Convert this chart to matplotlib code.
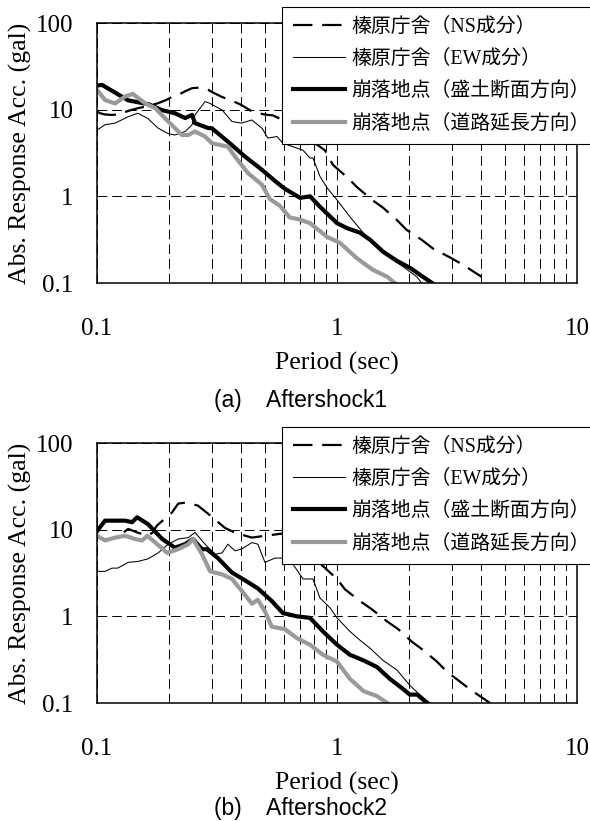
import matplotlib
matplotlib.use('Agg')
import matplotlib.pyplot as plt
from matplotlib.ticker import FixedLocator, FixedFormatter, NullLocator
from matplotlib.font_manager import FontProperties

plt.rcParams['font.family'] = ['Liberation Serif', 'Noto Sans CJK JP']
plt.rcParams['lines.scale_dashes'] = False

labels = ['榛原庁舎（NS成分）', '榛原庁舎（EW成分）',
          '崩落地点（盛土断面方向）', '崩落地点（道路延長方向）']
captions = ['(a)    Aftershock1', '(b)    Aftershock2']

# Aftershock1
a_ns_t = [0.100, 0.103, 0.108, 0.115, 0.122, 0.130, 0.137, 0.148, 0.163, 0.180, 0.195, 0.205, 0.218, 0.235,
          0.249, 0.270, 0.290, 0.301, 0.332, 0.370, 0.400, 0.446, 0.490, 0.515, 0.540, 0.600, 0.700, 0.810,
          0.890, 0.963, 1.110, 1.210, 1.400, 1.555, 1.780, 1.950, 2.250, 2.510, 2.960, 3.340, 4.000]
a_ns_v = [9.5, 9.1, 8.8, 8.7, 8.8, 9.3, 9.8, 10.4, 11.0, 11.9, 13.0, 14.0, 14.8, 16.5,
          17.7, 18.0, 17.0, 16.0, 14.0, 12.5, 11.3, 9.4, 8.9, 8.7, 8.6, 7.5, 5.6, 4.1,
          3.4, 2.3, 1.63, 1.28, 0.91, 0.74, 0.53, 0.41, 0.316, 0.25, 0.197, 0.163, 0.118]

a_ew_t = [0.100, 0.108, 0.119, 0.135, 0.148, 0.163, 0.180, 0.198, 0.211, 0.233, 0.249, 0.256, 0.282, 0.296,
          0.332, 0.365, 0.400, 0.442, 0.487, 0.515, 0.562, 0.595, 0.681, 0.722, 0.772, 0.794, 0.849, 0.910,
          1.000, 1.132, 1.330, 1.555, 1.880, 2.150, 2.250]
a_ew_v = [5.8, 6.7, 7.0, 8.3, 9.1, 7.9, 6.1, 5.3, 5.1, 5.6, 6.7, 8.7, 12.4, 11.8,
          9.9, 7.3, 7.0, 7.6, 6.1, 4.7, 4.9, 4.1, 3.6, 3.4, 2.77, 2.77, 1.7, 1.25,
          0.91, 0.58, 0.34, 0.22, 0.155, 0.118, 0.1]

a_bk_t = [0.100, 0.105, 0.135, 0.165, 0.186, 0.211, 0.233, 0.249, 0.256, 0.290, 0.301, 0.351, 0.414, 0.487,
          0.552, 0.607, 0.702, 0.772, 0.849, 1.000, 1.100, 1.247, 1.372, 1.555, 1.778, 2.010, 2.280, 2.490]
a_bk_v = [19.0, 19.3, 12.8, 11.5, 9.9, 9.1, 8.0, 8.7, 7.0, 6.15, 6.1, 4.28, 2.87, 2.02,
          1.5, 1.22, 0.96, 1.0, 0.76, 0.49, 0.43, 0.38, 0.316, 0.23, 0.18, 0.15, 0.118, 0.1]

a_gy_t = [0.100, 0.108, 0.119, 0.131, 0.141, 0.159, 0.175, 0.198, 0.226, 0.240, 0.256, 0.282, 0.301, 0.351,
          0.376, 0.426, 0.487, 0.525, 0.578, 0.636, 0.700, 0.772, 0.910, 1.029, 1.210, 1.410, 1.620, 1.740]
a_gy_v = [16.9, 12.9, 11.8, 14.2, 15.2, 11.8, 10.4, 7.3, 5.1, 5.1, 5.6, 4.9, 4.1, 3.74,
          2.87, 1.85, 1.36, 0.93, 0.78, 0.57, 0.54, 0.49, 0.34, 0.29, 0.193, 0.142, 0.118, 0.1]

# Aftershock2
b_ns_t = [0.100, 0.103, 0.112, 0.122, 0.135, 0.147, 0.162, 0.170, 0.178, 0.205, 0.218, 0.233, 0.263, 0.290,
          0.341, 0.376, 0.442, 0.501, 0.589, 0.650, 0.720, 0.800, 0.874, 1.000, 1.079, 1.247, 1.400, 1.620,
          1.800, 2.050, 2.280, 2.610, 2.870, 3.310, 3.630, 4.340]
b_ns_v = [8.2, 8.0, 7.6, 8.3, 10.2, 9.3, 8.5, 9.2, 11.2, 15.7, 20.0, 20.5, 19.0, 15.3,
          10.5, 9.2, 8.1, 8.5, 9.0, 8.5, 6.5, 4.8, 3.8, 2.7, 2.05, 1.5, 1.2, 0.87,
          0.71, 0.51, 0.41, 0.30, 0.23, 0.17, 0.14, 0.10]

b_ew_t = [0.100, 0.108, 0.1155, 0.122, 0.135, 0.148, 0.163, 0.180, 0.198, 0.218, 0.240, 0.256, 0.282, 0.310,
          0.332, 0.351, 0.376, 0.402, 0.442, 0.468, 0.501, 0.552, 0.589, 0.655, 0.722, 0.794, 0.849, 0.936,
          1.000, 1.132, 1.247, 1.372, 1.555, 1.778, 2.010, 2.210, 2.440]
b_ew_v = [3.3, 3.3, 3.6, 3.6, 4.2, 4.3, 4.6, 5.4, 6.8, 7.8, 8.1, 9.3, 6.8, 5.2,
          5.4, 6.8, 5.7, 6.0, 7.1, 6.8, 4.2, 4.7, 4.7, 4.0, 2.7, 2.7, 1.63, 1.25,
          0.96, 0.67, 0.53, 0.43, 0.31, 0.24, 0.16, 0.125, 0.1]

b_bk_t = [0.100, 0.108, 0.131, 0.140, 0.147, 0.163, 0.187, 0.211, 0.233, 0.251, 0.274, 0.287, 0.319, 0.365,
          0.414, 0.468, 0.535, 0.595, 0.681, 0.772, 0.874, 1.000, 1.132, 1.290, 1.468, 1.660, 1.880, 2.010,
          2.160, 2.370]
b_bk_v = [9.6, 12.7, 12.7, 12.2, 13.9, 11.6, 7.8, 6.2, 6.8, 7.8, 5.95, 5.95, 4.7, 3.2,
          2.6, 2.1, 1.5, 1.09, 1.0, 0.96, 0.67, 0.47, 0.36, 0.31, 0.26, 0.19, 0.146, 0.125,
          0.125, 0.1]

b_gy_t = [0.100, 0.108, 0.119, 0.131, 0.144, 0.154, 0.162, 0.175, 0.196, 0.218, 0.240, 0.251, 0.274, 0.296,
          0.332, 0.365, 0.402, 0.442, 0.468, 0.501, 0.535, 0.607, 0.681, 0.772, 0.874, 1.000, 1.132, 1.290,
          1.468, 1.620]
b_gy_v = [8.5, 7.5, 8.1, 8.5, 7.8, 7.5, 8.5, 7.1, 5.4, 5.95, 6.8, 7.8, 5.2, 3.3,
          3.05, 2.7, 1.95, 1.4, 1.55, 1.14, 0.76, 0.71, 0.56, 0.47, 0.36, 0.30, 0.19, 0.137,
          0.12, 0.1]

W, H = 590, 821
fig = plt.figure(figsize=(W / 100, H / 100), dpi=100)
leg_font = FontProperties(family=['Liberation Serif', 'Noto Sans CJK JP'], size=14.3)


def panel(top, series, caption, cap_y):
    # top = pixel row of the axes' upper edge
    ax = fig.add_axes([97 / W, 1 - (top + 260) / H, 480 / W, 260 / H])
    ns, ew, bk, gy = series
    l1, = ax.plot(ns[0], ns[1], color='black', lw=1.6, dashes=(14, 7))
    l2, = ax.plot(ew[0], ew[1], color='black', lw=0.75)
    l3, = ax.plot(bk[0], bk[1], color='black', lw=3.0)
    l4, = ax.plot(gy[0], gy[1], color='#9a9a9a', lw=3.0)
    ax.set_xscale('log')
    ax.set_yscale('log')
    ax.set_xlim(0.1, 10)
    ax.set_ylim(0.1, 100)
    ax.xaxis.set_major_locator(FixedLocator([0.1, 1, 10]))
    ax.xaxis.set_major_formatter(FixedFormatter(['0.1', '1', '10']))
    ax.xaxis.set_minor_locator(FixedLocator([0.2, 0.3, 0.4, 0.5, 0.6, 0.7, 0.8, 0.9,
                                             2, 3, 4, 5, 6, 7, 8, 9]))
    ax.xaxis.set_minor_formatter(FixedFormatter([]))
    ax.yaxis.set_major_locator(FixedLocator([0.1, 1, 10, 100]))
    ax.yaxis.set_major_formatter(FixedFormatter(['0.1', '1', '10', '100']))
    ax.yaxis.set_minor_locator(NullLocator())
    ax.grid(True, which='both', axis='x', color='black', lw=0.7, dashes=(7, 3.6))
    ax.grid(True, which='major', axis='y', color='black', lw=0.7, dashes=(7, 3.6))
    ax.tick_params(which='both', length=0, labelsize=18)
    ax.tick_params(axis='x', pad=25)
    ax.tick_params(axis='y', pad=17)
    for s in ax.spines.values():
        s.set_linewidth(1.1)
    ax.set_xlabel('Period (sec)', fontsize=18.5, labelpad=9)
    ax.set_ylabel('Abs. Response Acc. (gal)', fontsize=18.5)
    ax.yaxis.set_label_coords(-0.135, 0.5)

    leg_top = top - 16
    leg = ax.legend([l1, l2, l3, l4], labels, prop=leg_font, loc='upper left',
                    bbox_to_anchor=(282 / W, 1 - leg_top / H, 330 / W, 0),
                    bbox_transform=fig.transFigure, mode='expand', borderaxespad=0,
                    handlelength=2.6, handletextpad=0.36, borderpad=0.55,
                    labelspacing=0.66, fancybox=False, framealpha=1)
    leg.get_frame().set_edgecolor('black')
    leg.get_frame().set_linewidth(0.8)
    leg.set_zorder(10)

    fig.text(301 / W, 1 - cap_y / H, caption, fontsize=16.5, ha='center', va='center',
             family=['Liberation Sans', 'Noto Sans CJK JP'])
    return ax


panel(23, [(a_ns_t, a_ns_v), (a_ew_t, a_ew_v), (a_bk_t, a_bk_v), (a_gy_t, a_gy_v)], captions[0], 401)
panel(443, [(b_ns_t, b_ns_v), (b_ew_t, b_ew_v), (b_bk_t, b_bk_v), (b_gy_t, b_gy_v)], captions[1], 808)

fig.savefig('out.png', dpi=100)
